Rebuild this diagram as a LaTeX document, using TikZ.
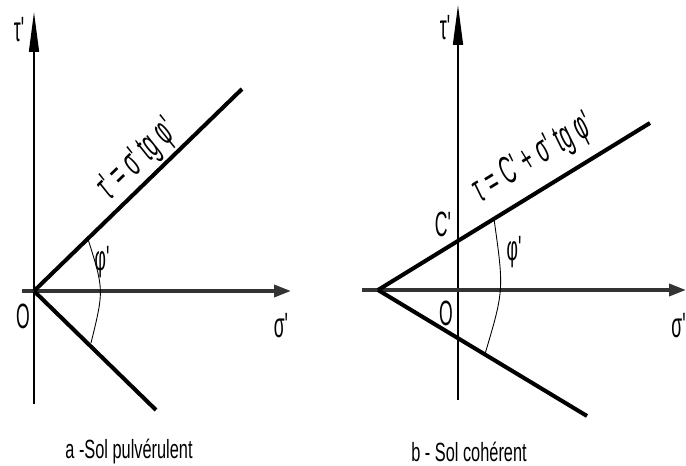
\documentclass[tikz,border=0pt]{standalone}
\usepackage{fontspec}
\setmainfont[FakeStretch=0.62]{Liberation Sans}
\newfontfamily\labelfont[FakeStretch=0.5]{Liberation Sans}
\usetikzlibrary{calc, positioning}
\usetikzlibrary{arrows.meta}

\tikzset{
  axisline/.style={line width=0.9pt},
  sigmaaxis/.style={line width=2pt, black!80},
  envline/.style={line width=2.3pt},
  anglearc/.style={line width=0.5pt},
  lbl/.style={font=\labelfont\fontsize{20}{22}\selectfont, inner sep=0pt},
  eqlbl/.style={font=\labelfont\itshape\fontsize{22}{24}\selectfont, inner sep=1pt},
  caption/.style={font=\fontsize{15}{17}\selectfont, inner sep=0pt},
  tauarrow/.style={-{Triangle[length=8mm, width=2mm]}},
  sigarrow/.style={-{Triangle[length=3.4mm, width=2.4mm]}},
}

\begin{document}
\begin{tikzpicture}[x=0.02cm, y=-0.02cm]
\useasboundingbox (0,0) rectangle (686,466);

% a - sol pulverulent
\coordinate (Oa) at (34,291);
\coordinate (TauBotA) at (34,404);
\coordinate (TauTopA) at (34,12);
\coordinate (SigStartA) at (22,291);
\coordinate (SigEndA) at (291,291);
\coordinate (UpA) at (242,89);
\coordinate (LowA) at (156,410);
\coordinate (ArcTopA) at (88,239);
\coordinate (ArcBotA) at (91,343);

\draw[axisline, tauarrow] (TauBotA) -- (TauTopA);
\draw[sigmaaxis, sigarrow] (SigStartA) -- (SigEndA);
\draw[envline] (Oa) -- (UpA)
    node[pos=0.57, sloped, above, eqlbl] (eqa) {τ'\,=\,σ'\,tg\,φ'};
\draw[envline] (Oa) -- (LowA);
\draw[anglearc] (ArcTopA) .. controls (104,290) .. (ArcBotA);

\node[lbl] (taua) at (19,30) {τ'};
\node[lbl] (phia) at (102,262) {φ'};
\node[lbl] (origa) at (23,316) {O};
\node[lbl] (sigmaa) at (281,326) {σ'};
\node[caption] (capa) at (129,452) {a -Sol pulvérulent};

% b - sol coherent
\coordinate (Ab) at (378,290);
\coordinate (TauBotB) at (458,400);
\coordinate (TauTopB) at (458,5);
\coordinate (SigStartB) at (362,290);
\coordinate (SigEndB) at (686,290);
\coordinate (UpB) at (650,123);
\coordinate (LowB) at (587,416);
\coordinate (ArcTopB) at (494,219);
\coordinate (ArcBotB) at (485,354);

\draw[axisline, tauarrow] (TauBotB) -- (TauTopB);
\draw[sigmaaxis, sigarrow] (SigStartB) -- (SigEndB);
\draw[envline] (Ab) -- (UpB)
    node[pos=0.63, sloped, above, yshift=5pt, eqlbl] (eqb) {τ\,=\,C'\,+\,σ'\,tg\,φ'};
\draw[envline] (Ab) -- (LowB);
\draw[anglearc] (ArcTopB) .. controls (504,290) .. (ArcBotB);

\node[lbl] (taub) at (445,28) {τ'};
\node[lbl] (cb) at (443,224) {C'};
\node[lbl] (phib) at (514,252) {φ'};
\node[lbl] (origb) at (446,313) {O};
\node[lbl, anchor=east] (sigmab) at (686,326) {σ'};
\node[caption] (capb) at (469,452) {b - Sol cohérent};
\end{tikzpicture}
\end{document}
